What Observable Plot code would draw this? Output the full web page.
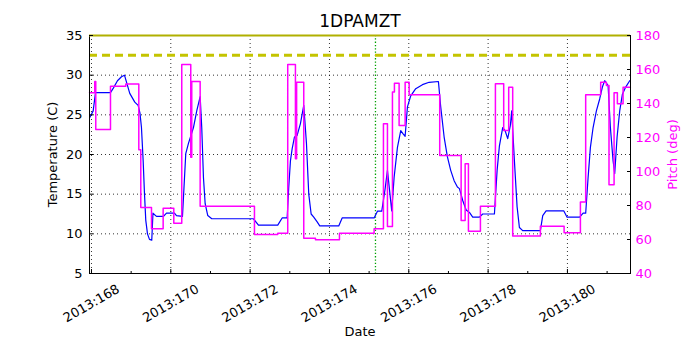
<!DOCTYPE html>
<html><head><meta charset="utf-8">
<script src="https://cdn.jsdelivr.net/npm/d3@7"></script>
<script src="https://cdn.jsdelivr.net/npm/@observablehq/plot@0.6"></script>
<style>body{margin:0;background:#fff;} #chart svg{display:block;}</style>
</head><body><div id="chart"></div>
<script>
// Temperature (1DPAMZT, deg C) samples: day-of-year 2013 and value
const tempDays = [167.950,168.043,168.101,168.479,168.555,168.655,168.756,168.832,168.965,169.092,169.177,169.223,169.260,169.303,169.336,169.369,169.412,169.462,169.520,169.550,169.639,169.815,169.891,170.092,170.143,170.294,170.377,170.445,170.571,170.654,170.740,170.780,170.823,170.866,170.932,171.033,172.084,172.210,172.696,172.807,172.933,172.974,173.016,173.059,173.117,173.185,173.268,173.352,173.420,173.478,173.538,173.604,173.690,173.755,174.234,174.320,175.126,175.210,175.318,175.404,175.462,175.570,175.630,175.714,175.797,175.857,175.908,175.966,176.049,176.175,176.344,176.513,176.747,176.805,176.891,176.974,177.057,177.143,177.226,177.277,177.360,177.446,177.529,177.612,177.781,177.864,178.159,178.227,178.285,178.368,178.429,178.494,178.562,178.595,178.663,178.731,178.789,178.872,179.318,179.377,179.462,179.906,179.991,180.309,180.395,180.460,180.521,180.579,180.647,180.730,180.813,180.881,180.939,181.025,181.083,181.151,181.192,181.252,181.318,181.386,181.469,181.570];
const tempVals = [24.6,25.5,27.8,27.8,28.4,29.3,29.8,30.0,27.7,26.6,26.2,25.2,23.4,19.2,15.1,11.7,10.0,9.3,9.2,12.6,12.2,12.2,12.6,12.6,12.3,12.2,20.1,21.4,23.4,25.5,27.3,23.4,17.1,13.8,12.3,11.9,11.9,11.1,11.1,12.0,12.0,15.9,19.2,20.7,22.2,22.4,23.9,26.2,21.4,15.0,12.5,12.1,11.5,11.0,11.0,12.0,12.0,12.85,12.85,15.7,18.0,12.9,17.1,20.9,23.0,22.6,22.3,26.0,27.4,28.3,28.8,29.1,29.2,26.0,22.2,19.7,18.0,16.7,15.9,15.7,14.2,13.0,12.7,12.1,12.1,12.5,12.5,18.0,21.1,23.4,23.0,22.0,23.7,25.5,19.2,13.4,10.8,10.4,10.4,12.3,12.9,12.9,12.1,12.1,12.6,12.6,17.1,20.9,23.4,25.5,27.0,28.5,29.3,28.7,23.4,19.2,17.6,22.2,25.5,27.6,28.5,29.3];

// Pitch (deg) step changes: day-of-year 2013 and value
const pitchDays = [167.950,168.083,168.108,168.479,168.865,169.193,169.243,169.513,169.807,170.075,170.276,170.503,170.528,170.740,172.109,172.696,172.948,173.142,173.172,173.352,173.647,174.252,175.126,175.361,175.462,175.588,175.638,175.756,175.908,176.009,176.780,177.320,177.421,177.504,177.806,178.184,178.393,178.519,178.620,179.318,179.916,180.327,180.460,180.838,180.982,181.048,181.176,181.259,181.403,181.587];
const pitchVals = [146.3,153.0,124.7,150.2,151.4,112.8,78.8,66.3,78.4,69.6,162.9,108.4,152.9,79.6,62.9,63.7,162.9,107.5,152.5,60.8,59.8,63.7,66.3,128.1,67.6,146.7,151.9,127.1,152.5,145.1,109.4,71.2,104.5,64.9,79.6,151.6,124.1,149.6,62.0,67.8,64.0,82.0,145.1,152.5,150.6,92.2,146.3,139.8,149.6,149.6];

const xTicks = [168,170,172,174,176,178,180];
const xMinorTicks = [169,171,173,175,177,179,181];
const tempTicks = [5,10,15,20,25,30,35];
const pitchTicks = [40,60,80,100,120,140,160,180];
const planningLimit = 32.5;
const cautionLimit = 35;
const markerDay = 175.16;
const xDomain = [167.95, 181.59];
const tempDomain = [5, 35];
const pitchDomain = [40, 180];

const toTemp = p => tempDomain[0] + (p - pitchDomain[0]) * (tempDomain[1] - tempDomain[0]) / (pitchDomain[1] - pitchDomain[0]);
const toPitch = t => pitchDomain[0] + (t - tempDomain[0]) * (pitchDomain[1] - pitchDomain[0]) / (tempDomain[1] - tempDomain[0]);

const tempData = tempDays.map((d, i) => ({day: d, t: tempVals[i]}));
const pitchData = pitchDays.map((d, i) => ({day: d, p: pitchVals[i]}));

const MAG = "#ff00ff";
const chart = Plot.plot({
  width: 700, height: 350,
  marginLeft: 89, marginRight: 70, marginTop: 35, marginBottom: 77,
  style: {fontFamily: "DejaVu Sans, sans-serif", fontSize: "13px", background: "#fff", color: "#000"},
  x: {domain: xDomain},
  y: {domain: tempDomain},
  marks: [
    Plot.gridX(xTicks, {stroke: "#000", strokeOpacity: 0.8, strokeWidth: 1, strokeDasharray: "1,3"}),
    Plot.gridY(tempTicks.slice(1, -1), {stroke: "#000", strokeOpacity: 0.8, strokeWidth: 1, strokeDasharray: "1,3"}),
    Plot.ruleX([markerDay], {stroke: "#00a000", strokeWidth: 1.3, strokeDasharray: "1.3,2"}),
    Plot.ruleY([planningLimit], {stroke: "#c4c400", strokeWidth: 3, strokeDasharray: "8,5"}),
    Plot.line(tempData, {x: "day", y: "t", stroke: "#0000ff", strokeWidth: 1.2}),
    Plot.line(pitchData, {x: "day", y: d => toTemp(d.p), curve: "step-after", stroke: MAG, strokeWidth: 1.5}),
    Plot.frame({stroke: "#000", strokeWidth: 1}),
    Plot.ruleY([cautionLimit], {stroke: "#b0b000", strokeWidth: 2}),
    Plot.axisX(xTicks, {anchor: "bottom", tickSize: -4, tickFormat: () => "", label: null}),
    Plot.text(xTicks, {x: d => d, frameAnchor: "bottom", dy: 30, rotate: -30, text: d => `2013:${d}`, textAnchor: "middle", lineAnchor: "middle", fontSize: 13}),
    Plot.axisX(xMinorTicks, {anchor: "bottom", tickSize: -2, tickFormat: () => "", label: null}),
    Plot.axisY(tempTicks, {anchor: "left", tickSize: -4, tickPadding: 11, label: null, fontSize: 13}),
    Plot.axisY(pitchTicks.map(toTemp), {anchor: "right", tickSize: -4, tickPadding: 9, tickFormat: t => Math.round(toPitch(t)), fill: MAG, stroke: "#000", label: null, fontSize: 13}),
    Plot.text(["1DPAMZT"], {frameAnchor: "top", dy: -14, lineAnchor: "middle", fontSize: 17}),
    Plot.text(["Temperature (C)"], {frameAnchor: "left", dx: -37, rotate: -90, textAnchor: "middle", lineAnchor: "middle", fontSize: 13}),
    Plot.text(["Pitch (deg)"], {frameAnchor: "right", dx: 42, rotate: -90, textAnchor: "middle", lineAnchor: "middle", fontSize: 13, fill: MAG}),
    Plot.text(["Date"], {frameAnchor: "bottom", dy: 58, lineAnchor: "middle", fontSize: 13})
  ]
});
document.getElementById("chart").appendChild(chart);
</script>
</body></html>
